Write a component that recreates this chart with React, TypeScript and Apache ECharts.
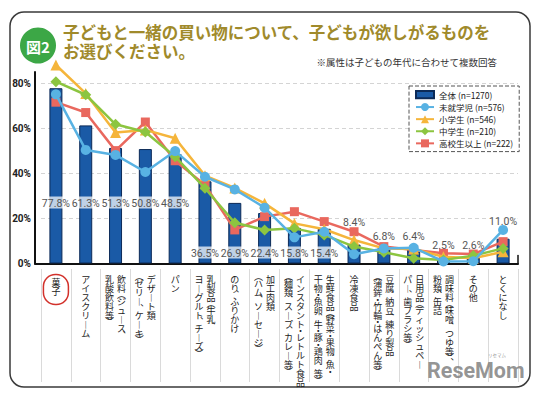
import React, { useEffect, useRef } from 'react';
import * as echarts from 'echarts';

// Category label text, split into vertical columns (right column first, as read)
const categoryColumns: string[][] = [
  ['菓子'],
  ['アイスクリーム'],
  ['飲料（ジュース、', '乳酸飲料等）'],
  ['デザート類', '（ゼリー、ケーキ）'],
  ['パン'],
  ['乳製品（牛乳、', 'ヨーグルト、チーズ）'],
  ['のり、ふりかけ'],
  ['加工肉類', '（ハム、ソーセージ）'],
  ['インスタント・レトルト食品', '（麺類、スープ、カレー等）'],
  ['生鮮食品（野菜・果物、魚・', '干物・魚卵、牛・豚・鶏肉　等）'],
  ['冷凍食品'],
  ['豆腐、納豆、練り製品', '（蒲鉾・竹輪・はんぺん等）'],
  ['日用品（ティッシュペー', 'パー、歯ブラシ等）'],
  ['調味料（味噌、つゆ等）、', '粉類、缶詰'],
  ['その他'],
  ['とくになし'],
];
const categories = categoryColumns.map((c) => c.join(''));

const seriesNames = ['全体 (n=1270)', '未就学児 (n=576)', '小学生 (n=546)', '中学生 (n=210)', '高校生以上 (n=222)'];

const overall = [77.8, 61.3, 51.3, 50.8, 48.5, 36.5, 26.9, 22.4, 15.8, 15.4, 8.4, 6.8, 6.4, 2.5, 2.6, 11.0];
const preschool = [75.1, 50.4, 48.2, 40.6, 49.9, 38.5, 32.9, 24.8, 11.6, 14.1, 4.1, 6.7, 7.0, 0.9, 1.0, 14.9];
const elementary = [88.1, 75.5, 58.1, 59.3, 55.6, 39.0, 33.5, 26.7, 17.8, 15.2, 10.4, 6.7, 6.4, 3.0, 2.3, 5.2];
const juniorHigh = [80.7, 74.9, 61.8, 58.4, 47.4, 33.4, 18.1, 14.9, 15.6, 12.7, 7.5, 5.0, 2.3, 1.6, 3.5, 6.7];
const highSchool = [71.6, 67.0, 50.1, 62.8, 45.6, 34.9, 14.9, 20.8, 23.0, 18.6, 14.1, 7.5, 6.0, 4.5, 4.2, 9.7];

const yMin = 0;
const yMax = 85;
const yInterval = 20;

// label placement of the bar value labels (styling, not data)
const barLabelPlacement: { position: string; distance: number }[] = [
  { position: 'insideBottom', distance: 55 },
  { position: 'insideBottom', distance: 55 },
  { position: 'insideBottom', distance: 55 },
  { position: 'insideBottom', distance: 55 },
  { position: 'insideBottom', distance: 55 },
  { position: 'insideBottom', distance: 5 },
  { position: 'insideBottom', distance: 5 },
  { position: 'insideBottom', distance: 5 },
  { position: 'insideBottom', distance: 5 },
  { position: 'insideBottom', distance: 5 },
  { position: 'top', distance: 17 },
  { position: 'top', distance: 6 },
  { position: 'top', distance: 7 },
  { position: 'top', distance: 7 },
  { position: 'top', distance: 7 },
  { position: 'top', distance: 12 },
];

const CJK = '"Noto Sans CJK JP", "Noto Sans CJK SC", sans-serif';
const NUM = '"Liberation Sans Narrow", Roboto, "Liberation Sans", sans-serif';

const VERT: Record<string, string> = { '（': '︵', '）': '︶', '、': '︑', 'ー': '︱' };
const PUNCT = new Set(['（', '）', '、', '・', '　']);

function verticalColumn(s: string | undefined): string {
  if (!s) return '';
  return s
    .split('')
    .map((ch) => `{${PUNCT.has(ch) ? 'p' : 'k'}|${VERT[ch] ?? ch}}`)
    .join('\n');
}

const rich = {
  k: { fontSize: 9, lineHeight: 9, fontFamily: CJK, color: '#222' },
  p: { fontSize: 9, lineHeight: 4.5, fontFamily: CJK, color: '#222' },
};

const GRID_LEFT = 41;
const GRID_RIGHT = 21;
const GRID_TOP = 72;
const GRID_BOTTOM = 131.5;

const lineDefs = [
  { name: seriesNames[1], data: preschool, color: '#58b2e3', symbol: 'circle', size: 10, z: 6 },
  { name: seriesNames[2], data: elementary, color: '#f5b53b', symbol: 'triangle', size: 11, z: 4 },
  { name: seriesNames[3], data: juniorHigh, color: '#8cc540', symbol: 'diamond', size: 11, z: 5 },
  { name: seriesNames[4], data: highSchool, color: '#e9685e', symbol: 'rect', size: 9, z: 3 },
];

function buildOption(): any {
  const firstColData = categories.map((name, i) => {
    const two = categoryColumns[i].length > 1;
    if (i === 0) {
      return {
        value: name,
        textStyle: {
          align: 'center',
          borderColor: '#d2312b',
          borderWidth: 1.5,
          borderRadius: 12,
          padding: [3, 8, 9, 8],
        },
      };
    }
    return {
      value: name,
      textStyle: two ? { align: 'left', padding: [0, 0, 0, 1.5] } : { align: 'center' },
    };
  });

  return {
    animation: false,
    backgroundColor: '#fff',
    title: [
      {
        text: '子どもと一緒の買い物について、子どもが欲しがるものを\nお選びください。',
        left: 63,
        top: 23,
        padding: 0,
        textStyle: { color: '#a08a2b', fontSize: 16.5, fontWeight: 'bold', lineHeight: 18.5, fontFamily: CJK },
      },
      {
        text: '※属性は子どもの年代に合わせて複数回答',
        right: 42,
        top: 57,
        padding: 0,
        textStyle: { color: '#333', fontSize: 9.5, fontWeight: 'normal', fontFamily: CJK },
      },
    ],
    legend: {
      data: [
        { name: seriesNames[0], icon: 'path://M0,0H15V6H0Z' },
        seriesNames[1],
        seriesNames[2],
        seriesNames[3],
        seriesNames[4],
      ],
      orient: 'vertical',
      left: 409,
      top: 86,
      padding: [4, 6, 4, 6],
      itemGap: 3.6,
      itemWidth: 18,
      itemHeight: 10,
      backgroundColor: '#fff',
      borderColor: '#555',
      borderWidth: 1,
      borderType: 'dashed',
      textStyle: { fontSize: 8.5, color: '#222', fontFamily: CJK },
    },
    grid: [
      { left: GRID_LEFT, right: GRID_RIGHT, top: GRID_TOP, bottom: GRID_BOTTOM, outerBoundsMode: 'none' },
      { left: GRID_LEFT, right: GRID_RIGHT, top: GRID_TOP, bottom: GRID_BOTTOM, outerBoundsMode: 'none' },
      { left: GRID_LEFT, right: GRID_RIGHT, top: 269, height: 113, outerBoundsMode: 'none' },
      { left: 35, right: GRID_RIGHT, top: 255.5, bottom: GRID_BOTTOM, outerBoundsMode: 'none' },
    ],
    xAxis: [
      {
        type: 'category',
        gridIndex: 0,
        data: firstColData,
        axisLine: { show: false, onZero: false },
        axisTick: { show: false },
        splitLine: { show: false },
        axisLabel: {
          interval: 0,
          margin: 11,
          rich,
          formatter: (_v: string, i: number) => verticalColumn(categoryColumns[i][0]),
        },
      },
      {
        type: 'category',
        gridIndex: 1,
        data: categories,
        axisLine: { show: false, onZero: false },
        axisTick: { show: false },
        splitLine: { show: false },
        axisLabel: {
          interval: 0,
          margin: 11,
          align: 'right',
          padding: [0, 1.5, 0, 0],
          rich,
          formatter: (_v: string, i: number) => verticalColumn(categoryColumns[i][1]),
        },
      },
      {
        type: 'category',
        gridIndex: 2,
        data: categories,
        axisLine: { show: false, onZero: false },
        axisTick: { show: false },
        axisLabel: { show: false },
        splitLine: { show: true, interval: 0, lineStyle: { color: '#dadada', width: 1 } },
      },
      {
        type: 'category',
        gridIndex: 3,
        data: [''],
        axisLine: { show: true, onZero: false, lineStyle: { color: '#111', width: 2 } },
        axisTick: { show: false },
        axisLabel: { show: false },
        splitLine: { show: false },
      },
    ],
    yAxis: [
      {
        type: 'value',
        gridIndex: 0,
        min: yMin,
        max: yMax,
        interval: yInterval,
        offset: 6,
        axisLine: { show: true, onZero: false, lineStyle: { color: '#111', width: 2 } },
        axisTick: { show: false },
        axisLabel: {
          formatter: '{value}%',
          showMaxLabel: false,
          margin: 4,
          fontSize: 10,
          fontWeight: 'bold',
          color: '#222',
          fontFamily: NUM,
        },
        splitLine: {
          show: true,
          showMaxLine: false,
          lineStyle: { color: '#d4d4d4', type: [4, 3], width: 1 },
        },
      },
      { type: 'value', gridIndex: 1, show: false },
      { type: 'value', gridIndex: 2, show: false },
      {
        type: 'value',
        gridIndex: 3,
        position: 'right',
        axisLine: { show: true, onZero: false, lineStyle: { color: '#111', width: 1.5 } },
        axisTick: { show: false },
        axisLabel: { show: false },
        splitLine: { show: false },
      },
    ],
    series: [
      {
        name: seriesNames[0],
        type: 'bar',
        xAxisIndex: 0,
        yAxisIndex: 0,
        barWidth: 13,
        z: 2,
        itemStyle: { color: '#1a5aa6', borderColor: '#0c2a57', borderWidth: 1 },
        data: overall.map((v, i) => ({
          value: v,
          label: {
            show: true,
            position: barLabelPlacement[i].position,
            distance: barLabelPlacement[i].distance,
          },
        })),
        label: {
          show: true,
          formatter: (p: any) => `${Number(p.value).toFixed(1)}%`,
          color: '#555',
          fontSize: 10.5,
          fontFamily: NUM,
          backgroundColor: 'rgba(255,255,255,0.72)',
          padding: [1, 1, 0, 1],
        },
      },
      ...lineDefs.map((d) => ({
        name: d.name,
        type: 'line',
        xAxisIndex: 0,
        yAxisIndex: 0,
        data: d.data,
        symbol: d.symbol,
        symbolSize: d.size,
        showSymbol: true,
        clip: false,
        z: d.z,
        lineStyle: { color: d.color, width: 2.5 },
        itemStyle: { color: d.color },
      })),
    ],
    graphic: [
      {
        type: 'rect',
        silent: true,
        shape: { x: 10, y: 12, width: 520, height: 375, r: 14 },
        style: { fill: 'none', stroke: '#3a3a3a', lineWidth: 1.5 },
      },
      {
        type: 'circle',
        silent: true,
        shape: { cx: 38, cy: 45.5, r: 18 },
        style: { fill: '#3ca746' },
      },
      {
        type: 'text',
        silent: true,
        x: 38,
        y: 46,
        style: {
          text: '図2',
          fill: '#fff',
          fontSize: 15,
          fontWeight: 'bold',
          fontFamily: CJK,
          align: 'center',
          verticalAlign: 'middle',
        },
      },
      {
        type: 'text',
        silent: true,
        x: 427,
        y: 370,
        z: 50,
        style: {
          text: 'ReseMom',
          fill: 'rgba(130,130,130,0.85)',
          fontSize: 21.5,
          fontWeight: 'bold',
          fontFamily: 'Roboto, sans-serif',
          align: 'left',
          verticalAlign: 'middle',
        },
      },
      {
        type: 'text',
        silent: true,
        x: 497,
        y: 355,
        z: 50,
        style: {
          text: 'リセマム',
          fill: 'rgba(130,130,130,0.85)',
          fontSize: 4.5,
          fontFamily: CJK,
          align: 'center',
          verticalAlign: 'middle',
        },
      },
    ],
  };
}

export default function App() {
  const ref = useRef<HTMLDivElement>(null);
  useEffect(() => {
    if (!ref.current) return;
    const chart = echarts.init(ref.current, undefined, { renderer: 'svg' });
    chart.setOption(buildOption());
    return () => chart.dispose();
  }, []);
  return (
    <div
      ref={ref}
      style={{ position: 'fixed', left: 0, top: 0, width: 539, height: 395, background: '#fff' }}
    />
  );
}
